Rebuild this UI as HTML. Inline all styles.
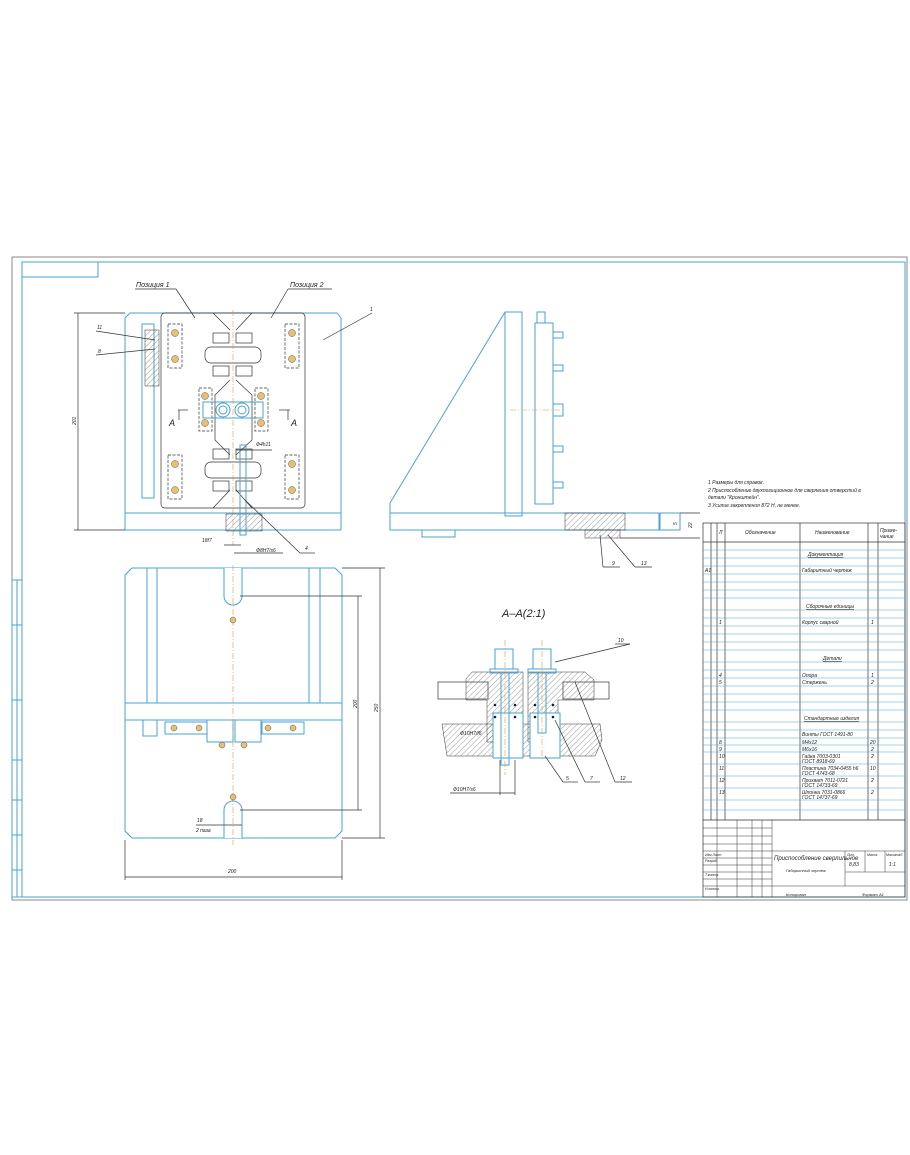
<!DOCTYPE html>
<html><head><meta charset="utf-8"><style>
html,body{margin:0;padding:0;background:#fff}
svg{display:block}
text{font-family:"Liberation Sans","DejaVu Sans",sans-serif;font-style:italic;fill:#222}
.b{stroke:#4aa3d4;fill:none;stroke-width:1}
.k{stroke:#333;fill:none;stroke-width:0.7}
.o{stroke:#e09a40;fill:none;stroke-width:0.6;stroke-dasharray:6 2 1 2}
.t{font-size:5px}
</style></head><body>
<svg width="910" height="1155" viewBox="0 0 910 1155" xmlns="http://www.w3.org/2000/svg">
<defs>
<pattern id="h" width="4" height="4" patternUnits="userSpaceOnUse" patternTransform="rotate(45)"><line x1="0" y1="0" x2="0" y2="4" stroke="#555" stroke-width="0.6"/></pattern>
</defs>
<rect x="12" y="257" width="895" height="643" fill="none" stroke="#888" stroke-width="1"/>
<rect x="22" y="262" width="883" height="635" class="b"/>
<rect x="22" y="262" width="76" height="15" class="b"/>
<rect x="12" y="580" width="10" height="317" class="b"/>
<line x1="17" y1="580" x2="17" y2="897" class="b"/>
<g class="b"><line x1="12" y1="625" x2="22" y2="625"/><line x1="12" y1="700" x2="22" y2="700"/><line x1="12" y1="760" x2="22" y2="760"/><line x1="12" y1="800" x2="22" y2="800"/><line x1="12" y1="835" x2="22" y2="835"/><line x1="12" y1="870" x2="22" y2="870"/></g>

<path d="M130 313 H337 L341 318 V530 H125 V318 Z" class="b"/>
<line x1="125" y1="513" x2="341" y2="513" class="b"/>
<rect x="161" y="313" width="144" height="195" rx="4" class="k"/>
<rect x="142" y="324" width="12" height="174" class="b"/>
<rect x="145" y="330" width="14" height="56" fill="url(#h)" stroke="#333" stroke-width="0.5"/>
<path d="M213 313 L230 330 M252 313 L236 330 M213 508 L230 490 M252 508 L236 490" class="k"/>
<path d="M230 380 L215 395 V440 L230 455 M236 380 L252 395 V440 L236 455" class="k"/>
<g class="k">
<rect x="205" y="347" width="56" height="16" rx="6"/><rect x="213" y="333" width="16" height="10"/><rect x="236" y="333" width="16" height="10"/><rect x="213" y="366" width="16" height="10"/><rect x="236" y="366" width="16" height="10"/>
<rect x="205" y="462" width="56" height="16" rx="6"/><rect x="213" y="449" width="16" height="10"/><rect x="236" y="449" width="16" height="10"/><rect x="213" y="481" width="16" height="10"/><rect x="236" y="481" width="16" height="10"/>
</g>
<g class="k" stroke-dasharray="3 1.5">
<rect x="168" y="324" width="14" height="44"/><rect x="285" y="324" width="14" height="44"/>
<rect x="168" y="455" width="14" height="44"/><rect x="285" y="455" width="14" height="44"/>
<rect x="199" y="388" width="13" height="43"/><rect x="255" y="388" width="13" height="43"/>
</g>
<g fill="#e8c070" stroke="#555" stroke-width="0.5">
<circle cx="175" cy="333" r="3.5"/><circle cx="175" cy="359" r="3.5"/><circle cx="292" cy="333" r="3.5"/><circle cx="292" cy="359" r="3.5"/>
<circle cx="175" cy="464" r="3.5"/><circle cx="175" cy="490" r="3.5"/><circle cx="292" cy="464" r="3.5"/><circle cx="292" cy="490" r="3.5"/>
<circle cx="205" cy="396" r="3.5"/><circle cx="205" cy="423" r="3.5"/><circle cx="261" cy="396" r="3.5"/><circle cx="261" cy="423" r="3.5"/>
</g>
<rect x="203" y="402" width="60" height="16" class="b"/>
<circle cx="223" cy="410" r="7" class="b"/><circle cx="223" cy="410" r="4" class="b"/>
<circle cx="242" cy="410" r="7" class="b"/><circle cx="242" cy="410" r="4" class="b"/>
<line x1="233" y1="310" x2="233" y2="545" class="o"/>
<rect x="226" y="514" width="36" height="17" fill="url(#h)" stroke="#333" stroke-width="0.5"/>
<rect x="240" y="445" width="6" height="90" class="b"/>
<line x1="78" y1="313" x2="78" y2="530" class="k"/><line x1="74" y1="313" x2="125" y2="313" class="k"/><line x1="74" y1="530" x2="125" y2="530" class="k"/>
<text x="0" y="0" class="t" transform="translate(76 425) rotate(-90)">201</text>
<text x="136" y="287" font-size="7">Позиция 1</text><line x1="135" y1="289" x2="176" y2="289" class="k"/><line x1="176" y1="289" x2="195" y2="318" class="k"/>
<text x="290" y="287" font-size="7">Позиция 2</text><line x1="288" y1="289" x2="332" y2="289" class="k"/><line x1="288" y1="289" x2="271" y2="318" class="k"/>
<text x="370" y="311" class="t">1</text><line x1="372" y1="313" x2="323" y2="340" class="k"/>
<text x="97" y="329" class="t">11</text><line x1="96" y1="331" x2="155" y2="340" class="k"/>
<text x="98" y="353" class="t">8</text><line x1="96" y1="355" x2="155" y2="349" class="k"/>
<text x="169" y="426" font-size="9" font-style="normal">A</text><line x1="178" y1="410" x2="188" y2="410" class="k"/><line x1="179" y1="410" x2="179" y2="420" class="k"/>
<text x="291" y="426" font-size="9" font-style="normal">A</text><line x1="279" y1="410" x2="290" y2="410" class="k"/><line x1="288" y1="410" x2="288" y2="420" class="k"/>
<text x="256" y="446" class="t">Ф4h11</text><line x1="236" y1="450" x2="272" y2="450" class="k"/>
<text x="202" y="542" class="t">18f7</text><line x1="224" y1="545" x2="241" y2="545" class="k"/>
<text x="256" y="552" class="t">Ф8H7/s6</text><line x1="234" y1="553" x2="283" y2="553" class="k"/>
<text x="305" y="550" class="t">4</text><line x1="300" y1="553" x2="315" y2="553" class="k"/><line x1="300" y1="553" x2="245" y2="500" class="k"/>

<path d="M505 312 L390 503 V530 H659 V513" class="b"/>
<line x1="390" y1="513" x2="659" y2="513" class="b"/>
<rect x="505" y="312" width="17" height="204" class="b"/>
<rect x="535" y="323" width="18" height="181" class="b"/>
<rect x="537" y="312" width="8" height="11" class="b"/>
<g class="b"><rect x="553" y="332" width="10" height="6"/><rect x="553" y="365" width="10" height="6"/><rect x="553" y="404" width="10" height="12"/><rect x="553" y="446" width="10" height="6"/><rect x="553" y="482" width="10" height="6"/><rect x="422" y="530" width="33" height="7"/><rect x="660" y="513" width="20" height="17"/></g>
<rect x="565" y="513" width="60" height="17" fill="url(#h)" stroke="#333" stroke-width="0.5"/>
<rect x="585" y="530" width="35" height="8" fill="url(#h)" stroke="#333" stroke-width="0.5"/>
<line x1="510" y1="410" x2="560" y2="410" class="o"/>
<line x1="680" y1="513" x2="700" y2="513" class="k"/><line x1="620" y1="538" x2="700" y2="538" class="k"/>
<text x="0" y="0" class="t" transform="translate(677 525) rotate(-90)">5</text>
<text x="0" y="0" class="t" transform="translate(692 528) rotate(-90)">22</text>
<text x="612" y="565" class="t">9</text><line x1="603" y1="567" x2="620" y2="567" class="k"/><line x1="603" y1="567" x2="600" y2="535" class="k"/>
<text x="641" y="565" class="t">13</text><line x1="635" y1="567" x2="652" y2="567" class="k"/><line x1="635" y1="567" x2="608" y2="535" class="k"/>

<path d="M132 568 H335 L342 575 V831 L335 838 H132 L125 831 V575 Z" class="b"/>
<rect x="125" y="703" width="217" height="17" class="b"/>
<g class="b"><line x1="147" y1="568" x2="147" y2="703"/><line x1="157" y1="568" x2="157" y2="703"/><line x1="309" y1="568" x2="309" y2="703"/><line x1="320" y1="568" x2="320" y2="703"/>
<path d="M224 568 V596 A8 8 0 0 0 242 596 V568" fill="#fff"/><path d="M224 838 V810 A8 8 0 0 1 242 810 V838" fill="#fff"/>
<rect x="165" y="722" width="42" height="12"/><rect x="262" y="722" width="42" height="12"/><rect x="143" y="720" width="14" height="16"/>
<rect x="207" y="720" width="26" height="22"/><rect x="235" y="720" width="26" height="22"/></g>
<line x1="233" y1="565" x2="233" y2="845" class="o"/>
<g fill="#e8c070" stroke="#555" stroke-width="0.5"><circle cx="233" cy="620" r="3"/><circle cx="233" cy="797" r="3"/><circle cx="174" cy="728" r="3"/><circle cx="199" cy="728" r="3"/><circle cx="268" cy="728" r="3"/><circle cx="293" cy="728" r="3"/><circle cx="222" cy="745" r="3"/><circle cx="244" cy="745" r="3"/></g>
<g class="k"><line x1="342" y1="568" x2="385" y2="568"/><line x1="380" y1="568" x2="380" y2="838"/><line x1="342" y1="838" x2="385" y2="838"/>
<line x1="240" y1="596" x2="362" y2="596"/><line x1="358" y1="596" x2="358" y2="810"/><line x1="240" y1="810" x2="362" y2="810"/>
<line x1="125" y1="840" x2="125" y2="880"/><line x1="342" y1="840" x2="342" y2="880"/><line x1="125" y1="877" x2="342" y2="877"/>
<line x1="196" y1="825" x2="242" y2="825"/></g>
<text x="0" y="0" class="t" transform="translate(378 712) rotate(-90)">250</text>
<text x="0" y="0" class="t" transform="translate(357 708) rotate(-90)">200</text>
<text x="228" y="873" class="t">200</text>
<text x="197" y="822" class="t">18</text><text x="196" y="832" class="t">2 паза</text>

<text x="502" y="617" font-size="11" font-style="normal">A–A(2:1)</text>
<rect x="438" y="682" width="50" height="17" class="k"/><rect x="563" y="682" width="46" height="17" class="k"/>
<path d="M466 679 L472 672 H523 V742 H487 V700 H466 Z" fill="url(#h)" stroke="#333" stroke-width="0.5"/>
<path d="M528 672 H585 L594 680 V700 H558 V742 H528 Z" fill="url(#h)" stroke="#333" stroke-width="0.5"/>
<path d="M442 724 H600 L602 740 L595 756 H447 Z" fill="url(#h)" stroke="#333" stroke-width="0.5"/>
<rect x="493" y="713" width="30" height="45" fill="#fff" stroke="#4aa3d4"/>
<rect x="530" y="713" width="30" height="45" fill="#fff" stroke="#4aa3d4"/>
<g class="b"><rect x="495" y="649" width="18" height="20"/><rect x="533" y="649" width="18" height="20"/><rect x="490" y="669" width="28" height="4"/><rect x="528" y="669" width="28" height="4"/><rect x="501" y="673" width="8" height="92"/><rect x="538" y="673" width="8" height="60"/></g>
<line x1="505" y1="640" x2="505" y2="775" class="o"/><line x1="542" y1="640" x2="542" y2="760" class="o"/>
<g fill="#123"><circle cx="495" cy="705" r="1.3"/><circle cx="515" cy="705" r="1.3"/><circle cx="495" cy="717" r="1.3"/><circle cx="515" cy="717" r="1.3"/><circle cx="535" cy="705" r="1.3"/><circle cx="553" cy="705" r="1.3"/><circle cx="535" cy="717" r="1.3"/><circle cx="553" cy="717" r="1.3"/></g>
<text x="460" y="735" class="t">Ф10H7/f6</text>
<text x="453" y="791" class="t">Ф10H7/s6</text><line x1="450" y1="793" x2="515" y2="793" class="k"/>
<line x1="500" y1="760" x2="500" y2="795" class="k"/><line x1="515" y1="760" x2="515" y2="795" class="k"/>
<text x="618" y="642" class="t">10</text><line x1="555" y1="662" x2="630" y2="644" class="k"/><line x1="615" y1="644" x2="630" y2="644" class="k"/>
<text x="566" y="780" class="t">5</text><line x1="545" y1="756" x2="563" y2="782" class="k"/><line x1="563" y1="782" x2="578" y2="782" class="k"/>
<text x="590" y="780" class="t">7</text><line x1="555" y1="720" x2="585" y2="782" class="k"/><line x1="585" y1="782" x2="600" y2="782" class="k"/>
<text x="620" y="780" class="t">12</text><line x1="575" y1="682" x2="615" y2="782" class="k"/><line x1="615" y1="782" x2="632" y2="782" class="k"/>

<text x="708" y="484" class="t">1 Размеры для справок.</text>
<text x="708" y="492" class="t">2 Приспособление двухпозиционное для сверления отверстий в</text>
<text x="708" y="499" class="t">детали "Кронштейн".</text>
<text x="708" y="507" class="t">3 Усилие закрепления 872 Н, не менее.</text>

<g class="k">
<rect x="703" y="523" width="202" height="374"/>
<line x1="703" y1="542" x2="905" y2="542"/>
<line x1="711" y1="523" x2="711" y2="820"/><line x1="717" y1="523" x2="717" y2="820"/><line x1="725" y1="523" x2="725" y2="820"/>
<line x1="800" y1="523" x2="800" y2="820"/><line x1="868" y1="523" x2="868" y2="820"/><line x1="878" y1="523" x2="878" y2="820"/>
<line x1="703" y1="820" x2="905" y2="820"/>
</g>
<g stroke="#4aa3d4" stroke-width="0.5">
<line x1="703" y1="550" x2="905" y2="550"/><line x1="703" y1="558" x2="905" y2="558"/><line x1="703" y1="566" x2="905" y2="566"/><line x1="703" y1="574" x2="905" y2="574"/><line x1="703" y1="582" x2="905" y2="582"/><line x1="703" y1="590" x2="905" y2="590"/><line x1="703" y1="598" x2="905" y2="598"/><line x1="703" y1="610" x2="905" y2="610"/><line x1="703" y1="618" x2="905" y2="618"/><line x1="703" y1="626" x2="905" y2="626"/><line x1="703" y1="634" x2="905" y2="634"/><line x1="703" y1="642" x2="905" y2="642"/><line x1="703" y1="650" x2="905" y2="650"/><line x1="703" y1="662" x2="905" y2="662"/><line x1="703" y1="670" x2="905" y2="670"/><line x1="703" y1="678" x2="905" y2="678"/><line x1="703" y1="686" x2="905" y2="686"/><line x1="703" y1="694" x2="905" y2="694"/><line x1="703" y1="702" x2="905" y2="702"/><line x1="703" y1="710" x2="905" y2="710"/><line x1="703" y1="722" x2="905" y2="722"/><line x1="703" y1="730" x2="905" y2="730"/><line x1="703" y1="738" x2="905" y2="738"/><line x1="703" y1="745" x2="905" y2="745"/><line x1="703" y1="752" x2="905" y2="752"/><line x1="703" y1="764" x2="905" y2="764"/><line x1="703" y1="776" x2="905" y2="776"/><line x1="703" y1="788" x2="905" y2="788"/><line x1="703" y1="800" x2="905" y2="800"/><line x1="703" y1="810" x2="905" y2="810"/>
</g>
<text x="745" y="534" class="t">Обозначение</text><text x="815" y="534" class="t">Наименование</text><text x="880" y="532" class="t">Приме-</text><text x="880" y="538" class="t">чание</text>
<text x="719" y="534" class="t">Л</text>
<g class="t">
<text x="808" y="556" text-decoration="underline">Документация</text>
<text x="705" y="572">А1</text><text x="802" y="572">Габаритный чертеж</text>
<text x="806" y="608" text-decoration="underline">Сборочные единицы</text>
<text x="719" y="624">1</text><text x="802" y="624">Корпус сварной</text><text x="871" y="624">1</text>
<text x="823" y="660" text-decoration="underline">Детали</text>
<text x="719" y="677">4</text><text x="802" y="677">Опора</text><text x="871" y="677">1</text>
<text x="719" y="684">5</text><text x="802" y="684">Стержень</text><text x="871" y="684">2</text>
<text x="804" y="720" text-decoration="underline">Стандартные изделия</text>
<text x="802" y="736">Винты ГОСТ 1491-80</text>
<text x="719" y="744">8</text><text x="802" y="744">М4х12</text><text x="870" y="744">20</text>
<text x="719" y="751">9</text><text x="802" y="751">М6х16</text><text x="871" y="751">2</text>
<text x="719" y="758">10</text><text x="802" y="758">Гайка 7003-0301</text><text x="871" y="758">2</text>
<text x="802" y="763">ГОСТ 8918-69</text>
<text x="719" y="770">11</text><text x="802" y="770">Пластина 7034-0455 h6</text><text x="870" y="770">10</text>
<text x="802" y="775">ГОСТ 4743-68</text>
<text x="719" y="782">12</text><text x="802" y="782">Прихват 7011-0721</text><text x="871" y="782">2</text>
<text x="802" y="787">ГОСТ 14733-69</text>
<text x="719" y="794">13</text><text x="802" y="794">Шпонка 7031-0866</text><text x="871" y="794">2</text>
<text x="802" y="799">ГОСТ 14737-69</text>
</g>
<g stroke="#333" stroke-width="0.5">
<line x1="772" y1="820" x2="772" y2="897"/><line x1="703" y1="851" x2="905" y2="851"/><line x1="845" y1="851" x2="845" y2="886"/><line x1="772" y1="886" x2="905" y2="886"/><line x1="845" y1="872" x2="905" y2="872"/>
<line x1="703" y1="828" x2="772" y2="828"/><line x1="703" y1="836" x2="772" y2="836"/><line x1="703" y1="844" x2="772" y2="844"/><line x1="703" y1="858" x2="772" y2="858"/><line x1="703" y1="865" x2="772" y2="865"/><line x1="703" y1="872" x2="772" y2="872"/><line x1="703" y1="879" x2="772" y2="879"/><line x1="703" y1="886" x2="772" y2="886"/>
<line x1="717" y1="820" x2="717" y2="897"/><line x1="737" y1="820" x2="737" y2="897"/><line x1="752" y1="820" x2="752" y2="897"/><line x1="762" y1="820" x2="762" y2="897"/>
<line x1="865" y1="851" x2="865" y2="872"/><line x1="885" y1="851" x2="885" y2="872"/>
</g>
<text x="774" y="860" font-size="6">Приспособление сверлильное</text>
<text x="786" y="872" font-size="4">Габаритный чертеж</text>
<text x="849" y="866" class="t">8,83</text><text x="889" y="866" class="t">1:1</text>
<text x="847" y="856" font-size="3.5">Лит.</text><text x="867" y="856" font-size="3.5">Масса</text><text x="886" y="856" font-size="3.5">Масштаб</text>
<text x="705" y="856" font-size="3.5">Изм Лист</text><text x="705" y="862" font-size="3.5">Разраб.</text><text x="705" y="876" font-size="3.5">Т.контр.</text><text x="705" y="890" font-size="3.5">Н.контр.</text>
<text x="786" y="896" font-size="4">Копировал</text><text x="862" y="896" font-size="4">Формат А1</text>
</svg>
</body></html>
